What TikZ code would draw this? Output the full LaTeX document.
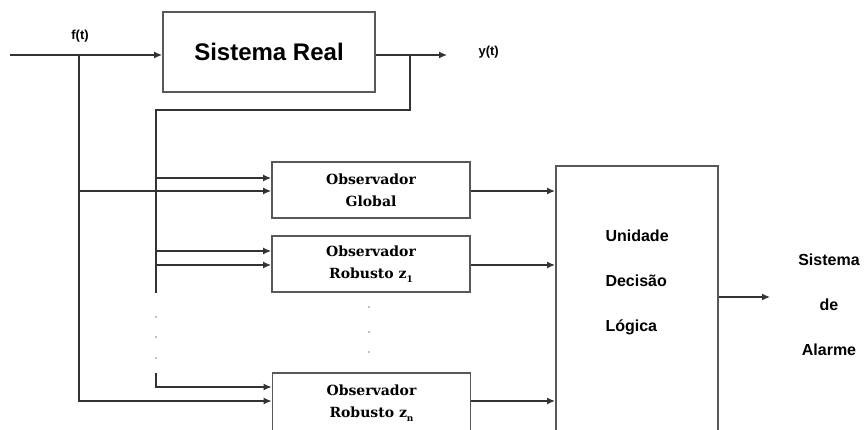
\documentclass[tikz,border=0pt]{standalone}
\usepackage{fontspec}
\setmainfont{Liberation Sans}
\newfontfamily\obsfont{DejaVu Serif}
\usetikzlibrary{arrows.meta}
\begin{document}
\begin{tikzpicture}[x=1pt,y=-1pt,
 ln/.style={line width=1.3pt, draw=black!80},
 arr/.style={ln, -{Latex[length=8pt,width=7pt]}},
 box/.style={draw=black!65, line width=1.8pt, inner sep=0pt},
 obs/.style={box, minimum width=198pt, minimum height=56pt, font=\obsfont\bfseries\fontsize{14}{22}\selectfont, align=center},
 lab/.style={font=\bfseries\fontsize{16}{45}\selectfont, align=center}]
\clip (0,0) rectangle (867,430);
\node[box, minimum width=212pt, minimum height=80pt, font=\bfseries\fontsize{24}{24}\selectfont] (sr) at (269,52) {Sistema Real};
\node[obs] (og) at (371,190) {Observador\\Global};
\node[obs] (o1) at (371,264) {Observador\\Robusto z\raisebox{-0.5ex}{\small 1}};
\node[obs, minimum height=60pt] (on) at (371.5,403) {Observador\\Robusto z\raisebox{-0.5ex}{\small n}};
\node[box, minimum width=162pt, minimum height=280pt, anchor=north west] (ud) at (555,165) {};
\node[lab, anchor=west, align=left] (udt) at (602,282) {Unidade\\Decisão\\Lógica};
\node[lab] (sa) at (829,305) {Sistema\\de\\Alarme};
\node[font=\bfseries\fontsize{13}{13}\selectfont] (fl) at (80,36) {f(t)};
\node[font=\bfseries\fontsize{13}{13}\selectfont, anchor=west] (yl) at (475,52) {y(t)};
% input and output of the real system
\coordinate (in) at (10,55);
\coordinate (ft) at (79,55);
\coordinate (yo) at (447,55);
\coordinate (br) at (410,55);
\coordinate (bl) at (156,110);
\coordinate (bb) at (156,293);
\coordinate (bt) at (156,373);
\coordinate (fb) at (79,401);
\draw[arr] (in) -- (in -| sr.west);
\draw[arr] (sr.east |- in) -- (yo);
\draw[ln] (br) |- (bl) -- (bb);
\draw[arr] (ft) -- (fb) -- (fb -| on.west);
% observer inputs
\draw[arr] (bl |- 0,178) -- (og.west |- 0,178);
\draw[arr] (ft |- 0,191) -- (og.west |- 0,191);
\draw[arr] (bl |- 0,251) -- (o1.west |- 0,251);
\draw[arr] (bl |- 0,265) -- (o1.west |- 0,265);
\draw[arr] (bt) |- (on.west |- 0,387);
% dots
\foreach \yy in {317,337,358} \fill[black!50] (156,\yy) circle (0.9);
\foreach \yy in {307,332,352} \fill[black!50] (369,\yy) circle (0.9);
% observer outputs
\draw[arr] (og.east |- 0,191) -- (ud.west |- 0,191);
\draw[arr] (o1.east |- 0,265) -- (ud.west |- 0,265);
\draw[arr] (on.east |- 0,401) -- (ud.west |- 0,401);
\draw[arr] (ud.east |- 0,297) -- (770,297);
\end{tikzpicture}
\end{document}
